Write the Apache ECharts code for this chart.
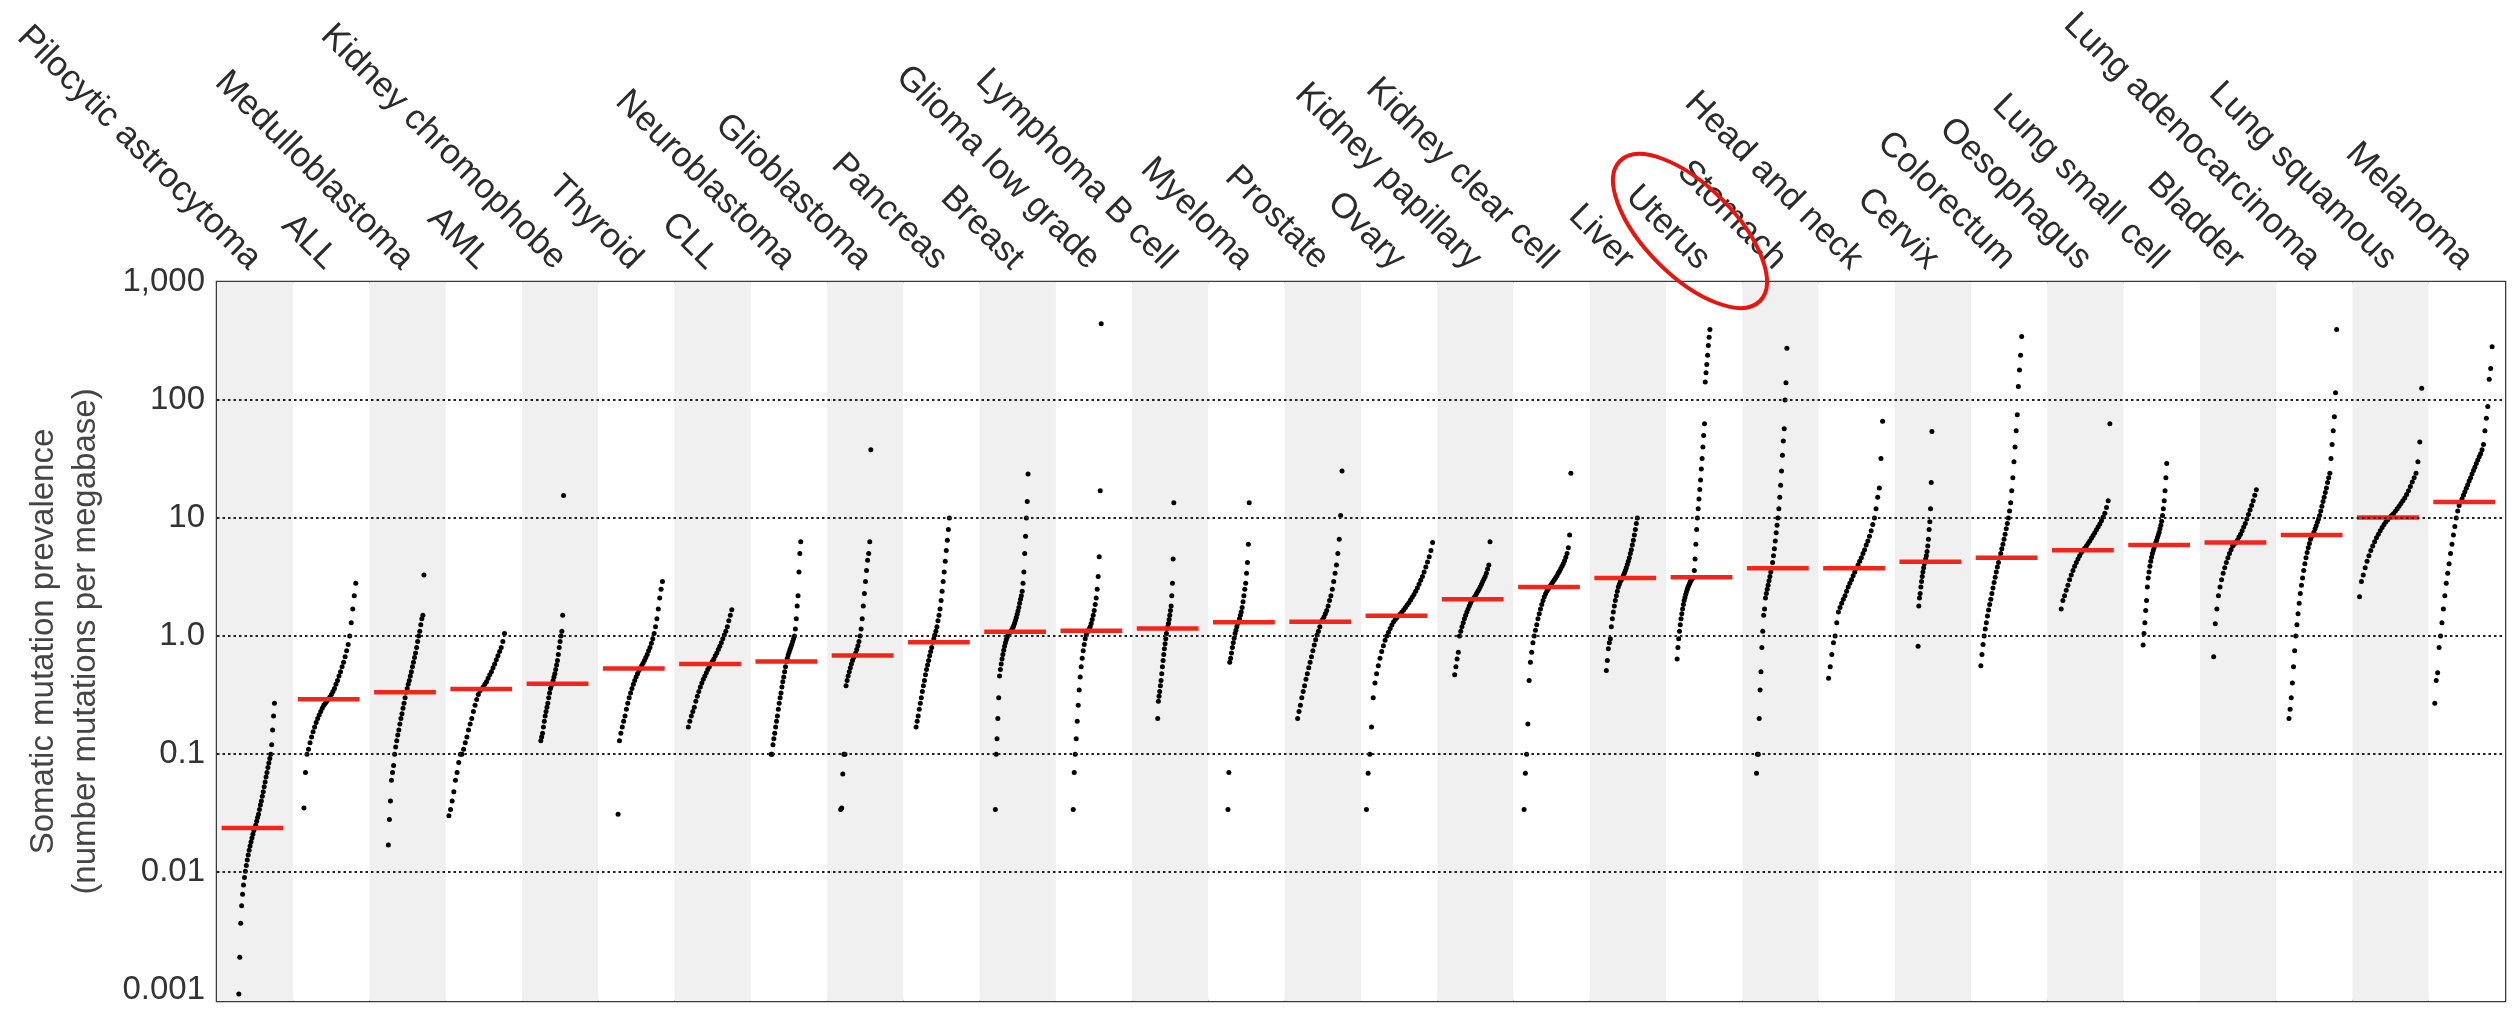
<!DOCTYPE html>
<html>
<head>
<meta charset="utf-8">
<script src="https://cdn.jsdelivr.net/npm/echarts@6/dist/echarts.min.js"></script>
<style>
  html, body { margin: 0; padding: 0; background: #ffffff; }
  #chart { width: 2514px; height: 1012px; }
</style>
</head>
<body>
<div id="chart"></div>
<script>
// ---------------- DATA ----------------
const categories = ['Pilocytic astrocytoma', 'ALL', 'Medulloblastoma', 'AML', 'Kidney chromophobe', 'Thyroid', 'CLL',
  'Neuroblastoma', 'Glioblastoma', 'Pancreas', 'Breast', 'Glioma low grade', 'Lymphoma B cell', 'Myeloma', 'Prostate',
  'Ovary', 'Kidney papillary', 'Kidney clear cell', 'Liver', 'Uterus', 'Stomach', 'Head and neck', 'Cervix',
  'Colorectum', 'Oesophagus', 'Lung small cell', 'Bladder', 'Lung adenocarcinoma', 'Lung squamous', 'Melanoma'];

// median (red bar) per tumour type
const medians = [0.0237, 0.292, 0.335, 0.357, 0.395, 0.531, 0.581, 0.608, 0.685, 0.887, 1.09, 1.11, 1.16, 1.31, 1.32,
  1.49, 2.05, 2.6, 3.1, 3.15, 3.76, 3.76, 4.27, 4.6, 5.33, 5.9, 6.2, 7.2, 10.1, 13.7];

// sorted sample values (mutations per megabase), one list per tumour type
const vPilocytic = [0.00093, 0.0019, 0.0037, 0.0052, 0.0065, 0.0078, 0.009, 0.0102, 0.0114, 0.0127, 0.014, 0.0153, 0.0167, 0.018, 0.0195, 0.021, 0.0225, 0.0237, 0.025, 0.027, 0.029, 0.031, 0.034, 0.037, 0.04, 0.044, 0.048, 0.053, 0.058, 0.064, 0.07, 0.077, 0.084, 0.092, 0.1, 0.12, 0.16, 0.21, 0.27];
const vALL = [0.035, 0.07, 0.1, 0.11, 0.125, 0.14, 0.155, 0.17, 0.185, 0.2, 0.215, 0.23, 0.245, 0.26, 0.27, 0.28, 0.292, 0.305, 0.32, 0.34, 0.36, 0.39, 0.42, 0.46, 0.5, 0.55, 0.6, 0.67, 0.75, 0.85, 1.0, 1.3, 1.7, 2.2, 2.8];
const vMedullo = [0.017, 0.028, 0.04, 0.06, 0.07, 0.08, 0.1, 0.115, 0.13, 0.145, 0.16, 0.18, 0.2, 0.22, 0.245, 0.27, 0.3, 0.335, 0.36, 0.39, 0.42, 0.46, 0.5, 0.55, 0.6, 0.66, 0.72, 0.8, 0.9, 1.0, 1.1, 1.25, 1.4, 1.5, 3.3];
const vAML = [0.03, 0.034, 0.04, 0.048, 0.06, 0.07, 0.085, 0.1, 0.1, 0.11, 0.125, 0.14, 0.16, 0.18, 0.2, 0.23, 0.26, 0.29, 0.32, 0.345, 0.357, 0.37, 0.39, 0.41, 0.44, 0.47, 0.5, 0.54, 0.58, 0.63, 0.68, 0.74, 0.8, 0.9, 1.05];
const vKidneyChromo = [0.13, 0.14, 0.15, 0.17, 0.19, 0.21, 0.23, 0.25, 0.27, 0.3, 0.33, 0.36, 0.38, 0.395, 0.42, 0.45, 0.48, 0.52, 0.57, 0.62, 0.7, 0.8, 0.9, 1.0, 1.1, 1.5, 15.5];
const vThyroid = [0.031, 0.13, 0.15, 0.17, 0.19, 0.21, 0.24, 0.27, 0.3, 0.33, 0.36, 0.39, 0.42, 0.45, 0.48, 0.51, 0.53, 0.56, 0.59, 0.62, 0.66, 0.7, 0.75, 0.8, 0.87, 0.95, 1.05, 1.2, 1.4, 1.7, 2.1, 2.5, 2.9];
const vCLL = [0.17, 0.19, 0.21, 0.23, 0.25, 0.28, 0.31, 0.34, 0.37, 0.4, 0.43, 0.46, 0.49, 0.52, 0.55, 0.58, 0.61, 0.64, 0.68, 0.72, 0.77, 0.82, 0.88, 0.95, 1.02, 1.1, 1.2, 1.35, 1.5, 1.67];
const vNeuro = [0.1, 0.1, 0.12, 0.135, 0.15, 0.17, 0.19, 0.21, 0.24, 0.27, 0.3, 0.33, 0.37, 0.41, 0.45, 0.5, 0.55, 0.61, 0.65, 0.69, 0.73, 0.77, 0.81, 0.85, 0.9, 0.95, 1.0, 1.15, 1.4, 1.8, 2.2, 3.5, 5, 6.3];
const vGlioblastoma = [0.034, 0.035, 0.068, 0.1, 0.1, 0.38, 0.42, 0.46, 0.5, 0.54, 0.58, 0.62, 0.66, 0.685, 0.72, 0.77, 0.83, 0.9, 1.0, 1.15, 1.4, 1.8, 2.3, 2.9, 3.6, 4.4, 5.0, 6.3, 38];
const vPancreas = [0.17, 0.19, 0.21, 0.24, 0.27, 0.3, 0.34, 0.38, 0.42, 0.47, 0.52, 0.57, 0.62, 0.68, 0.74, 0.8, 0.887, 0.95, 1.02, 1.1, 1.2, 1.35, 1.5, 1.7, 2.0, 2.4, 2.9, 3.5, 4.3, 5.3, 6.5, 8, 10];
const vBreast = [0.034, 0.1, 0.135, 0.2, 0.3, 0.46, 0.52, 0.58, 0.64, 0.7, 0.76, 0.82, 0.88, 0.93, 0.98, 1.02, 1.05, 1.07, 1.09, 1.11, 1.14, 1.18, 1.23, 1.29, 1.36, 1.44, 1.53, 1.63, 1.75, 1.9, 2.05, 2.2, 2.4, 2.8, 3.5, 5, 7, 10, 13.8, 23.6];
const vGliomaLow = [0.034, 0.07, 0.1, 0.135, 0.19, 0.26, 0.35, 0.45, 0.55, 0.65, 0.75, 0.85, 0.95, 1.02, 1.08, 1.11, 1.15, 1.2, 1.28, 1.38, 1.5, 1.65, 1.85, 2.1, 2.5, 3.2, 4.7, 17, 443];
const vLymphoma = [0.2, 0.28, 0.31, 0.34, 0.38, 0.42, 0.48, 0.55, 0.62, 0.7, 0.78, 0.86, 0.95, 1.05, 1.16, 1.2, 1.28, 1.38, 1.5, 1.65, 1.8, 2.2, 2.8, 4.5, 13.5];
const vMyeloma = [0.034, 0.07, 0.6, 0.65, 0.72, 0.8, 0.88, 0.96, 1.05, 1.12, 1.2, 1.28, 1.31, 1.4, 1.5, 1.6, 1.75, 1.95, 2.2, 2.5, 2.8, 3.4, 4.2, 6, 13.5];
const vProstate = [0.2, 0.23, 0.26, 0.3, 0.34, 0.38, 0.43, 0.48, 0.54, 0.6, 0.67, 0.75, 0.84, 0.93, 1.02, 1.1, 1.2, 1.32, 1.38, 1.45, 1.55, 1.65, 1.8, 2.0, 2.2, 2.5, 2.9, 3.4, 4, 5, 6.6, 10.5, 25];
const vOvary = [0.034, 0.069, 0.1, 0.17, 0.3, 0.4, 0.48, 0.56, 0.65, 0.74, 0.83, 0.92, 1.0, 1.08, 1.16, 1.24, 1.32, 1.38, 1.44, 1.49, 1.54, 1.6, 1.67, 1.75, 1.83, 1.92, 2.02, 2.13, 2.25, 2.4, 2.56, 2.75, 2.97, 3.2, 3.5, 3.85, 4.25, 4.7, 5.3, 6.2];
const vKidneyPap = [0.47, 0.55, 0.64, 0.73, 1.0, 1.1, 1.2, 1.3, 1.4, 1.5, 1.6, 1.7, 1.8, 1.9, 2.0, 2.05, 2.12, 2.2, 2.3, 2.4, 2.5, 2.62, 2.75, 2.9, 3.05, 3.2, 3.4, 3.7, 4.0, 6.3];
const vKidneyClear = [0.034, 0.069, 0.1, 0.18, 0.42, 0.6, 0.73, 0.88, 1.0, 1.12, 1.25, 1.4, 1.55, 1.7, 1.85, 2.0, 2.15, 2.28, 2.4, 2.5, 2.6, 2.7, 2.8, 2.9, 3.0, 3.12, 3.25, 3.4, 3.55, 3.72, 3.9, 4.1, 4.35, 4.65, 5.0, 5.6, 7.2, 24];
const vLiver = [0.51, 0.62, 0.78, 0.88, 0.95, 1.2, 1.4, 1.6, 1.8, 2.0, 2.2, 2.4, 2.6, 2.75, 2.9, 3.0, 3.1, 3.25, 3.4, 3.6, 3.8, 4.05, 4.3, 4.6, 5.0, 5.4, 5.9, 6.5, 7.2, 8, 9, 10];
const vUterus = [0.64, 0.8, 0.95, 1.1, 1.25, 1.4, 1.55, 1.7, 1.85, 2.0, 2.12, 2.25, 2.38, 2.5, 2.6, 2.7, 2.8, 2.9, 2.98, 3.05, 3.1, 3.15, 3.6, 4.5, 6, 8, 10, 12, 14.5, 17.5, 21, 26, 32, 40, 50, 63, 142, 170, 200, 240, 290, 340, 395];
const vStomach = [0.069, 0.1, 0.1, 0.2, 0.35, 0.5, 0.8, 1.1, 1.5, 1.7, 2.1, 2.3, 2.5, 2.7, 2.95, 3.2, 3.5, 3.76, 4.2, 4.8, 5.5, 6.4, 7.5, 8.7, 10, 12, 15, 19, 25, 34, 45, 57, 100, 140, 275];
const vHeadNeck = [0.44, 0.55, 0.7, 0.88, 1.0, 1.3, 1.6, 1.75, 1.9, 2.05, 2.2, 2.4, 2.6, 2.8, 3.0, 3.25, 3.5, 3.76, 4.0, 4.3, 4.6, 5.0, 5.4, 5.9, 6.4, 7.0, 7.8, 8.8, 10, 12, 15, 18, 32, 66];
const vCervix = [0.82, 1.8, 2.1, 2.3, 2.6, 2.9, 3.2, 3.5, 3.8, 4.1, 4.27, 4.5, 4.8, 5.2, 5.8, 6.6, 8, 9.3, 12, 20, 54];
const vColorectum = [0.56, 0.7, 0.85, 1.0, 1.15, 1.3, 1.48, 1.66, 1.85, 2.05, 2.3, 2.55, 2.85, 3.15, 3.5, 3.85, 4.2, 4.6, 5.0, 5.5, 6.0, 6.6, 7.3, 8.1, 9.0, 10, 11.5, 13.5, 17, 22, 30, 40, 55, 75, 130, 180, 240, 345];
const vOesophagus = [1.7, 2.0, 2.2, 2.45, 2.7, 3.0, 3.3, 3.6, 3.9, 4.2, 4.5, 4.8, 5.1, 5.33, 5.55, 5.8, 6.1, 6.4, 6.75, 7.1, 7.5, 7.95, 8.4, 8.9, 9.5, 10.2, 11, 12.3, 14, 63];
const vLungSmall = [0.84, 1.05, 1.3, 1.65, 2.0, 2.6, 3.1, 3.5, 3.9, 4.3, 4.65, 5.0, 5.3, 5.6, 5.9, 6.2, 6.5, 6.85, 7.2, 7.6, 8.1, 8.7, 9.4, 10.5, 12, 14, 17, 22, 29];
const vBladder = [0.67, 1.27, 1.7, 2.2, 2.6, 3.0, 3.4, 3.8, 4.2, 4.6, 5.0, 5.4, 5.8, 6.0, 6.2, 6.5, 6.9, 7.3, 7.8, 8.4, 9.0, 9.8, 10.7, 11.7, 12.8, 14, 15.6, 17.4];
const vLungAdeno = [0.2, 0.24, 0.3, 0.4, 0.55, 0.75, 1.0, 1.25, 1.55, 1.9, 2.3, 2.7, 3.1, 3.6, 4.1, 4.6, 5.1, 5.6, 6.1, 6.6, 7.0, 7.2, 7.6, 8.1, 8.6, 9.2, 9.8, 10.5, 11.5, 12.6, 13.8, 15, 16.5, 18, 20, 22, 24, 32, 42, 55, 72, 115, 395];
const vLungSquam = [2.15, 2.9, 3.3, 3.8, 4.3, 4.8, 5.3, 5.8, 6.3, 6.8, 7.3, 7.8, 8.3, 8.8, 9.3, 9.7, 10.1, 10.5, 10.9, 11.4, 12, 12.6, 13.3, 14, 14.8, 15.8, 17, 18.5, 20.2, 22, 24, 30, 44, 126];
const vMelanoma = [0.27, 0.42, 0.49, 0.8, 1.0, 1.3, 1.7, 2.2, 2.8, 3.4, 4.1, 5.0, 6.0, 7.2, 8.5, 10, 11.5, 12.8, 13.7, 14.6, 15.6, 16.7, 17.9, 19.2, 20.6, 22, 23.6, 25.3, 27, 29, 31, 33, 35, 38, 42, 55, 70, 88, 150, 185, 283];

const sampleValues = [vPilocytic, vALL, vMedullo, vAML, vKidneyChromo, vThyroid, vCLL, vNeuro, vGlioblastoma,
  vPancreas, vBreast, vGliomaLow, vLymphoma, vMyeloma, vProstate, vOvary, vKidneyPap, vKidneyClear, vLiver, vUterus,
  vStomach, vHeadNeck, vCervix, vColorectum, vOesophagus, vLungSmall, vBladder, vLungAdeno, vLungSquam, vMelanoma];

// y-axis ticks
const yTickValues = [0.001, 0.01, 0.1, 1, 10, 100, 1000];
const yTickLabels = ['0.001', '0.01', '0.1', '1.0', '10', '100', '1,000'];
const gridValues = [0.01, 0.1, 1, 10, 100];

// ---------------- LAYOUT (fractions of a column) ----------------
const colStart = [0.28, 0.13, 0.24, 0.03, 0.24, 0.25, 0.17, 0.26, 0.17, 0.16, 0.2, 0.22, 0.33, 0.25, 0.16, 0.06, 0.22, 0.13, 0.21, 0.14, 0.18, 0.12, 0.3, 0.12, 0.17, 0.25, 0.17, 0.16, 0.08, 0.07];
const colWidth = [0.48, 0.70, 0.48, 0.75, 0.31, 0.6, 0.59, 0.4, 0.41, 0.45, 0.44, 0.38, 0.22, 0.29, 0.6, 0.89, 0.48, 0.63, 0.42, 0.44, 0.41, 0.73, 0.19, 0.55, 0.66, 0.32, 0.58, 0.64, 0.84, 0.77];
const MED_START = 0.06, MED_END = 0.87;

// ---------------- BUILD ----------------
const dotData = [];
sampleValues.forEach((vals, i) => {
  const m = vals.length;
  vals.forEach((v, j) => {
    dotData.push([i + colStart[i] + colWidth[i] * (j + 0.5) / m, v]);
  });
});
const medianData = medians.map((m, i) => [i, m]);

const FONT = '"Liberation Sans", Arial, Helvetica, sans-serif';
const chart = echarts.init(document.getElementById('chart'), null, { renderer: 'canvas' });

chart.setOption({
  animation: false,
  backgroundColor: '#ffffff',
  grid: { left: 217, right: 9, top: 282, bottom: 11, show: true, borderColor: '#3a3a3a', borderWidth: 2.5, containLabel: false },
  xAxis: [
    {
      type: 'category', data: categories, position: 'top', boundaryGap: true,
      axisLine: { show: false }, axisTick: { show: false },
      axisLabel: { interval: 0, rotate: 45, margin: 18, fontSize: 35, color: '#2b2b2b', fontFamily: FONT },
      splitLine: { show: false },
      splitArea: { show: true, interval: 0, areaStyle: { color: ['#f0f0f0', '#ffffff'] } }
    },
    { type: 'value', min: 0, max: 30, show: false }
  ],
  yAxis: {
    type: 'log', logBase: 10, min: 0.00081, max: 1000,
    axisLine: { show: false }, axisTick: { show: false }, splitLine: { show: false },
    axisLabel: {
      fontSize: 33, color: '#333', margin: 12, fontFamily: FONT, showMinLabel: false,
      formatter: function (v) {
        const lv = Math.log10(v);
        for (let k = 0; k < yTickValues.length; k++) {
          if (Math.abs(lv - Math.log10(yTickValues[k])) < 1e-6) return yTickLabels[k];
        }
        return '';
      }
    },
    name: 'Somatic mutation prevalence\n(number mutations per megabase)',
    nameLocation: 'middle', nameGap: 110,
    nameTextStyle: { fontSize: 33, color: '#444', lineHeight: 42, fontFamily: FONT }
  },
  series: [
    {
      type: 'scatter', xAxisIndex: 1, yAxisIndex: 0, data: dotData,
      symbol: 'circle', symbolSize: 5, itemStyle: { color: '#000', opacity: 1 },
      silent: true, z: 3,
      markLine: {
        silent: true, symbol: ['none', 'none'], label: { show: false }, animation: false,
        lineStyle: { color: '#222', type: [2.5, 3], width: 2.2 },
        data: gridValues.map(v => ({ yAxis: v }))
      }
    },
    {
      type: 'custom', xAxisIndex: 1, yAxisIndex: 0, data: medianData, z: 4, silent: true,
      encode: { x: 0, y: 1 },
      renderItem: function (params, api) {
        const i = api.value(0), m = api.value(1);
        const p1 = api.coord([i + MED_START, m]);
        const p2 = api.coord([i + MED_END, m]);
        return { type: 'line', shape: { x1: p1[0], y1: p1[1], x2: p2[0], y2: p2[1] },
                 style: { stroke: '#f0261c', lineWidth: 4.5 } };
      }
    }
  ],
  graphic: [
    {
      type: 'ellipse', x: 1690, y: 231, rotation: -Math.PI / 4, z: 100, silent: true,
      shape: { cx: 0, cy: 0, rx: 99, ry: 45 },
      style: { fill: 'none', stroke: '#e8150f', lineWidth: 4 }
    }
  ]
});
</script>
</body>
</html>
